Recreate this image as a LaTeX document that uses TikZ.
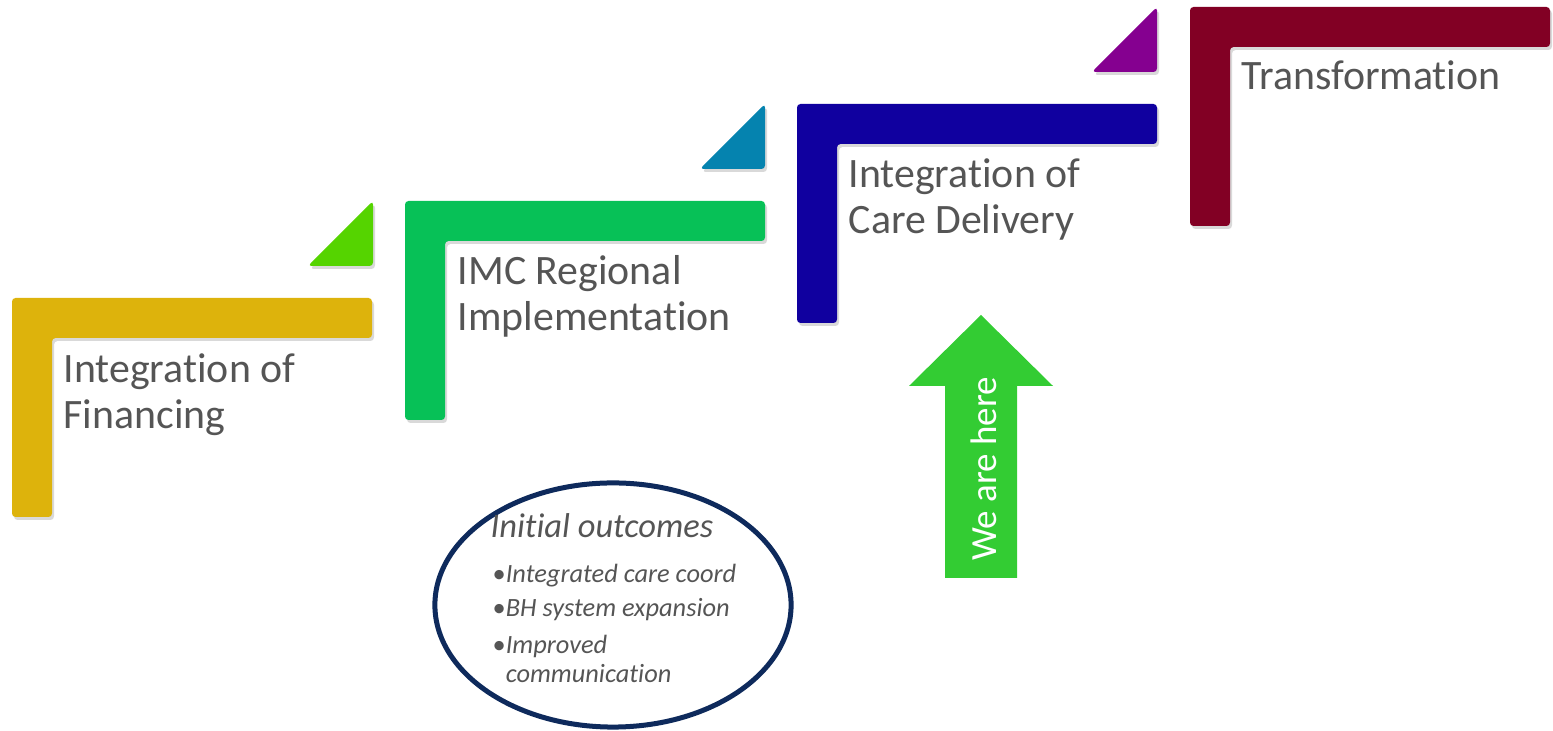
\documentclass[tikz,border=0pt]{standalone}
\usepackage{fontspec}
\setmainfont{Carlito}[Ligatures=NoCommon]
\usetikzlibrary{shapes,shadows,positioning}

\definecolor{stepyellow}{HTML}{DDB30C}
\definecolor{stepgreen}{HTML}{07C157}
\definecolor{stepblue}{HTML}{10009F}
\definecolor{stepred}{HTML}{820024}
\definecolor{trigreen}{HTML}{55D400}
\definecolor{tricyan}{HTML}{0583AF}
\definecolor{tripurple}{HTML}{850090}
\definecolor{herecolor}{HTML}{33CC33}
\definecolor{labelgray}{HTML}{555555}
\definecolor{ovalblue}{HTML}{0E2A5C}

\begin{document}
\begin{tikzpicture}[x=0.01cm, y=-0.01cm]

        % one pixel of the slide is one unit
        \tikzset{
            stepshadow/.style={rounded corners=1pt,
                drop shadow={opacity=0.3, shadow xshift=0.02cm, shadow yshift=-0.03cm}},
            steplabel/.style={anchor=base west, inner sep=0, align=left,
                text=labelgray, font=\fontsize{11.9}{13.1}\selectfont},
            outcomelabel/.style={anchor=base west, inner sep=0, align=left,
                text=labelgray}
        }

        \useasboundingbox (0,0) rectangle (1553,731);

        % the four steps
        \foreach \x/\y/\c in {12/298/stepyellow, 405/201/stepgreen,
                              797/104/stepblue, 1190/7/stepred}
            \fill[\c, stepshadow] (\x,\y) -- ++(360,0) -- ++(0,40)
                -- ++(-320,0) -- ++(0,179) -- ++(-40,0) -- cycle;

        % small corners above the steps
        \foreach \x/\y/\c in {308/266/trigreen, 700/169/tricyan, 1092/72/tripurple}
            \fill[\c, stepshadow] (\x,\y) -- ++(65,0) -- ++(0,-65) -- cycle;

        % base of a label is its last line
        \node[steplabel] (S1) at (63,429) {Integration of\\Financing};
        \node[steplabel] (S2) at (457,331) {IMC Regional\\Implementation};
        \node[steplabel] (S3) at (848,234) {Integration of\\Care Delivery};
        \node[steplabel] (S4) at (1241,90) {Transformation};

        % we are here
        \fill[herecolor] (945,578) -- (945,386) -- (909,386) -- (981,315)
            -- (1053,386) -- (1017,386) -- (1017,578) -- cycle;
        \node[rotate=90, text=white, font=\fontsize{10.5}{11}\selectfont]
            (here) at (984,469) {We are here};

        % initial outcomes
        \node[ellipse, draw=ovalblue, line width=0.05cm,
              minimum width=3.56cm, minimum height=2.44cm] (oval) at (613,605) {};
        \node[outcomelabel, font=\fontsize{9.8}{10}\selectfont\itshape]
            (O1) at (490,538) {Initial outcomes};
        \node[outcomelabel, font=\fontsize{7.5}{8.3}\selectfont\itshape]
            (O2) at (492,683)
            {{\upshape\textbullet}Integrated care coord\\[1.4pt]
             {\upshape\textbullet}BH system expansion\\[2.2pt]
             {\upshape\textbullet}Improved\\
             \hphantom{\upshape\textbullet}communication};

\end{tikzpicture}
\end{document}
